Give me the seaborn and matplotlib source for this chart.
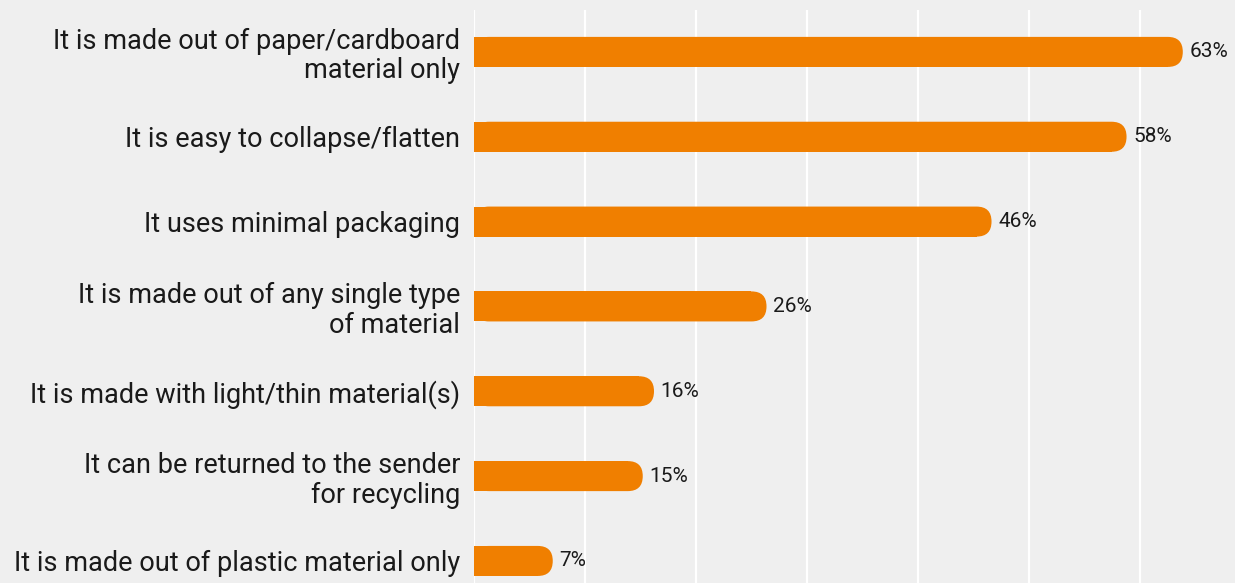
import numpy as np
import pandas as pd
import matplotlib
matplotlib.use("Agg")
import matplotlib.pyplot as plt
from matplotlib.patches import FancyBboxPatch
import seaborn as sns

categories = [
    "It is made out of paper/cardboard\nmaterial only",
    "It is easy to collapse/flatten",
    "It uses minimal packaging",
    "It is made out of any single type\nof material",
    "It is made with light/thin material(s)",
    "It can be returned to the sender\nfor recycling",
    "It is made out of plastic material only",
]
shares = [63, 58, 46, 26, 16, 15, 7]
value_labels = [f"{v}%" for v in shares]

BG = "#efefef"
BAR = "#f07f00"
TEXT = "#1a1a1a"

sns.set_theme(style="whitegrid")
plt.rcParams["font.family"] = ["Roboto", "DejaVu Sans"]

df = pd.DataFrame({"reason": categories, "share": shares})

fig = plt.figure(figsize=(12.35, 5.83), dpi=100, facecolor=BG)
ax = fig.add_axes([0.3838, 0.0, 0.6162, 0.983], facecolor=BG)

sns.barplot(data=df, x="share", y="reason", orient="h", color=BAR,
            saturation=1, width=0.354, linewidth=0, edgecolor="none", ax=ax)

ax.set_xlim(0, 67.64)
ax.set_ylim(6.26, -0.495)
grid_step = 9.867
ax.set_xticks(np.arange(7) * grid_step)
ax.set_xticklabels([])
ax.set_axisbelow(True)
ax.grid(axis="x", color="white", linewidth=1.6)
ax.grid(axis="y", visible=False)
ax.tick_params(axis="both", length=0)
ax.tick_params(axis="y", pad=10, labelsize=19.5, labelcolor=TEXT)
for lbl in ax.get_yticklabels():
    lbl.set_linespacing(1.12)
for s in ax.spines.values():
    s.set_visible(False)
ax.set_xlabel("")
ax.set_ylabel("")

# rounded right ends: convert pixel radius to data units on each axis
fig.canvas.draw()
px_per_x = ax.transData.transform((1, 0))[0] - ax.transData.transform((0, 0))[0]
px_per_y = abs(ax.transData.transform((0, 1))[1] - ax.transData.transform((0, 0))[1])
aspect = px_per_x / px_per_y

for patch, v, txt in zip(list(ax.patches), shares, value_labels):
    x0, y0 = patch.get_x(), patch.get_y()
    w, h = patch.get_width(), patch.get_height()
    r = (h * px_per_y / 2) / px_per_x
    cap = FancyBboxPatch((x0, y0), w, h,
                         boxstyle=f"round,pad=0,rounding_size={r}",
                         mutation_aspect=aspect, facecolor=BAR,
                         edgecolor="none", linewidth=0,
                         zorder=patch.get_zorder())
    ax.add_patch(cap)
    patch.set_width(w - r)
    ax.text(w + 0.6, y0 + h / 2, txt, va="center", ha="left",
            fontsize=15, color=TEXT)

fig.savefig("out.png", dpi=100, facecolor=BG)
